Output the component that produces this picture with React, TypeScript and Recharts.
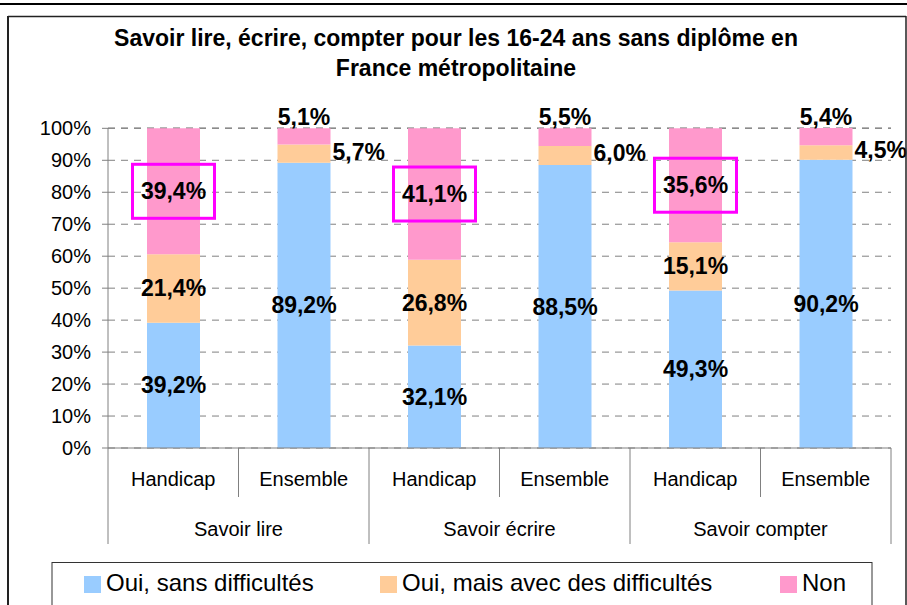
import * as React from "react";
import { BarChart, Bar, XAxis, YAxis, CartesianGrid, LabelList } from "recharts";

// categories (two-level axis)
const subLabels = ["Handicap", "Ensemble", "Handicap", "Ensemble", "Handicap", "Ensemble"];
const groupLabels = ["Savoir lire", "Savoir lire", "Savoir écrire", "Savoir écrire", "Savoir compter", "Savoir compter"];

// series values (%)
const ouiSans = [39.2, 89.2, 32.1, 88.5, 49.3, 90.2];
const ouiDiff = [21.4, 5.7, 26.8, 6.0, 15.1, 4.5];
const non = [39.4, 5.1, 41.1, 5.5, 35.6, 5.4];

// which "Non" labels are framed in magenta
const highlighted = [true, false, true, false, true, false];

const yTicks = [0, 10, 20, 30, 40, 50, 60, 70, 80, 90, 100];

const seriesNames = ["Oui, sans difficultés", "Oui, mais avec des difficultés", "Non"];
const seriesColors = ["#99CCFF", "#FFCC99", "#FF99CC"];

const W = 907;
const H = 605;
const MARGIN = { top: 128, right: 16, bottom: 0, left: 0 };
const Y_AXIS_W = 108;
const X_AXIS_H = 157;
const BAND = (W - MARGIN.left - MARGIN.right - Y_AXIS_W) / subLabels.length;
const FONT = '"Liberation Sans", Arial, Helvetica, sans-serif';
const LEGEND_X = [84, 380, 780];

const chartData = subLabels.map((sub, i) => ({
  key: `${groupLabels[i]}-${sub}`,
  ouiSans: ouiSans[i],
  ouiDiff: ouiDiff[i],
  non: non[i],
}));

const fmt = (v: number) => v.toFixed(1).replace(".", ",") + "%";

const labelStyle = { fontSize: 23, fontWeight: 700, fill: "#000" } as const;

function centerLabel(props: any) {
  const { x, y, width, height, value } = props;
  return (
    <text x={x + width / 2} y={y + height / 2 + 8} textAnchor="middle" {...labelStyle}>
      {fmt(value)}
    </text>
  );
}

function diffLabel(props: any) {
  const { x, y, width, height, value, index } = props;
  if (index % 2 === 0) return centerLabel(props);
  return (
    <text x={x + width + 2} y={y + height / 2 + 6} textAnchor="start" {...labelStyle}>
      {fmt(value)}
    </text>
  );
}

function nonLabel(props: any) {
  const { x, y, width, height, value, index } = props;
  if (index % 2 === 1) {
    return (
      <text x={x + width / 2} y={y - 3} textAnchor="middle" {...labelStyle}>
        {fmt(value)}
      </text>
    );
  }
  const cx = x + width / 2;
  const cy = y + height / 2;
  return (
    <g>
      <text x={cx} y={cy + 8} textAnchor="middle" {...labelStyle}>
        {fmt(value)}
      </text>
      {highlighted[index] && (
        <rect x={cx - 41} y={cy - 27} width={82} height={54} fill="none" stroke="#FF00FF" strokeWidth={3} />
      )}
    </g>
  );
}

function CategoryTick(props: any) {
  const { x, y, payload } = props;
  const i = payload.index;
  const left = x - BAND / 2;
  const right = x + BAND / 2;
  const groupStart = i % 2 === 0;
  return (
    <g>
      <line x1={left} x2={left} y1={y} y2={y + (groupStart ? 96 : 49)} stroke="#808080" />
      {i === subLabels.length - 1 && <line x1={right} x2={right} y1={y} y2={y + 96} stroke="#808080" />}
      <text x={x} y={y + 38} textAnchor="middle" fontSize={20} fill="#000">
        {subLabels[i]}
      </text>
      {groupStart && (
        <text x={right} y={y + 88} textAnchor="middle" fontSize={20} fill="#000">
          {groupLabels[i]}
        </text>
      )}
    </g>
  );
}

export default function App() {
  return (
    <div style={{ position: "absolute", left: 0, top: 0, width: W, height: H, overflow: "hidden", background: "#fff", fontFamily: FONT }}>
      <BarChart width={W} height={H} data={chartData} margin={MARGIN}>
        <CartesianGrid vertical={false} stroke="#808080" strokeDasharray="7 6" />
        <XAxis
          dataKey="key"
          interval={0}
          height={X_AXIS_H}
          tickLine={false}
          tickSize={0}
          tickMargin={0}
          axisLine={{ stroke: "#808080" }}
          tick={<CategoryTick />}
        />
        <YAxis
          width={Y_AXIS_W}
          domain={[0, 100]}
          ticks={yTicks}
          tickFormatter={(v: number) => `${v}%`}
          tickSize={6}
          tickMargin={11}
          tickLine={{ stroke: "#808080" }}
          axisLine={{ stroke: "#808080" }}
          tick={{ fontSize: 20, fill: "#000" }}
        />
        <Bar dataKey="ouiSans" stackId="a" fill={seriesColors[0]} barSize={53} isAnimationActive={false}>
          <LabelList dataKey="ouiSans" content={centerLabel} />
        </Bar>
        <Bar dataKey="ouiDiff" stackId="a" fill={seriesColors[1]} barSize={53} isAnimationActive={false}>
          <LabelList dataKey="ouiDiff" content={diffLabel} />
        </Bar>
        <Bar dataKey="non" stackId="a" fill={seriesColors[2]} barSize={53} isAnimationActive={false}>
          <LabelList dataKey="non" content={nonLabel} />
        </Bar>
      </BarChart>

      <svg width={W} height={H} style={{ position: "absolute", left: 0, top: 0, pointerEvents: "none" }}>
        {/* page rule above and chart frame */}
        <line x1={0} x2={W} y1={4} y2={4} stroke="#000" strokeWidth={2} />
        <line x1={8} x2={8} y1={16} y2={H} stroke="#222" strokeWidth={2} />
        <line x1={8} x2={906} y1={16.5} y2={16.5} stroke="#222" strokeWidth={1.5} />
        <line x1={906} x2={906} y1={16} y2={H} stroke="#222" strokeWidth={1.5} />

        <text x={456} y={46} textAnchor="middle" fontSize={23} fontWeight={700} fill="#000">
          Savoir lire, écrire, compter pour les 16-24 ans sans diplôme en
        </text>
        <text x={456} y={76} textAnchor="middle" fontSize={23} fontWeight={700} fill="#000">
          France métropolitaine
        </text>

        {/* legend */}
        <rect x={52} y={562.5} width={820} height={60} fill="none" stroke="#333" strokeWidth={1} />
        {seriesNames.map((name, i) => (
          <g key={name}>
            <rect x={LEGEND_X[i]} y={576} width={17} height={17} fill={seriesColors[i]} />
            <text x={LEGEND_X[i] + 22} y={591} fontSize={24} fill="#000">
              {name}
            </text>
          </g>
        ))}
      </svg>
    </div>
  );
}
